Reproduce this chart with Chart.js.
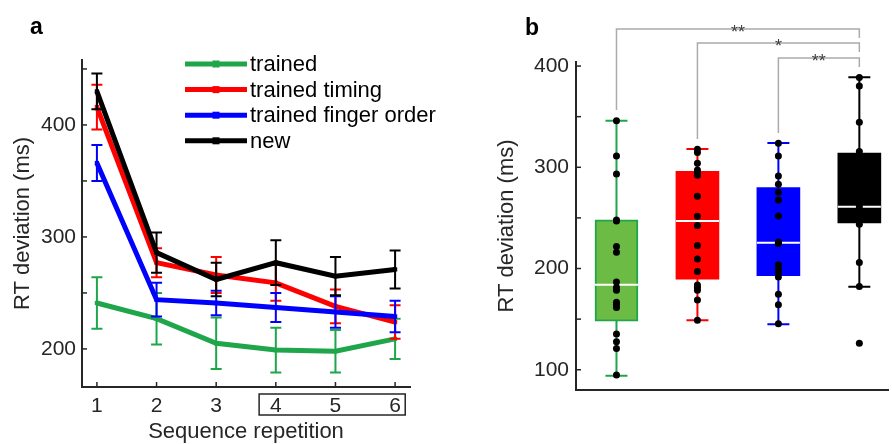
<!DOCTYPE html>
<html>
<head>
<meta charset="utf-8">
<script src="https://cdn.jsdelivr.net/npm/chart.js@4.4.0/dist/chart.umd.min.js"></script>
<style>
  html, body { margin: 0; padding: 0; background: #fff; }
  #wrap { position: relative; width: 892px; height: 444px; overflow: hidden; }
  #chartA { position: absolute; left: 0; top: 0; }
  #chartB { position: absolute; left: 460px; top: 0; }
</style>
</head>
<body>
<div id="wrap">
  <canvas id="chartA" width="450" height="444"></canvas>
  <canvas id="chartB" width="432" height="444"></canvas>
</div>
<script>
"use strict";

// panel a: RT deviation per sequence repetition (mean +- error)
var repetitions = [1, 2, 3, 4, 5, 6];
var trainedMean = [241, 227, 205, 199, 198, 209];
var trainedErr = [23, 23, 23, 20, 19, 18];
var timingMean = [416, 277, 266, 259, 238, 224];
var timingErr = [20, 13, 16, 16, 15, 15];
var fingerMean = [366, 244, 241, 237, 233, 229];
var fingerErr = [16, 15, 11, 13, 14, 14];
var newMean = [430, 286, 262, 277, 265, 271];
var newErr = [16, 18, 15, 20, 17, 17];
var yTicksA = [200, 250, 300, 350, 400, 450];

// panel b: box plots of individual subjects
var groups = ["trained", "trained timing", "trained finger order", "new"];
var boxMin = [94, 149, 145, 182];
var boxQ1 = [148, 189.5, 193, 245];
var boxMedian = [184, 247, 225.5, 261];
var boxQ3 = [248, 296, 280, 314];
var boxMax = [346, 318, 324, 389];
var ptsTrained = [346, 311.2, 293.4, 248, 247, 221.7, 216.1, 186.8, 181.3, 178.6, 166.8, 164.4, 161.5, 135.2, 127.6, 121, 94.7];
var ptsTiming = [317.8, 314.5, 304, 297.4, 294.8, 292.2, 271.4, 251.7, 242.4, 222.7, 209.5, 197, 183.6, 181.3, 178.6, 168.8, 149];
var ptsFinger = [323.7, 311.2, 291.4, 283.2, 275.4, 267.8, 252, 226.3, 225.5, 224.6, 203.6, 200, 196.1, 191.5, 174.7, 164.1, 145.4];
var ptsNew = [388.8, 380.3, 344.4, 315.5, 306, 295, 282, 270, 261.2, 258, 254, 250, 247, 243.8, 205.9, 182.2, 126.3];
var yTicksB = [100, 150, 200, 250, 300, 350, 400];
var sigFrom = [1, 2, 3];
var sigTo = [4, 4, 4];
var sigLabels = ["**", "*", "**"];

var green = "#1fa64b";
var greenFill = "#6cbb45";
var red = "#ff0000";
var blue = "#0000ff";
var black = "#000000";
var axisColor = "#262626";
var fontFamily = "'Liberation Sans', Arial, Helvetica, sans-serif";

Chart.defaults.font.family = fontFamily;
Chart.defaults.color = axisColor;

function points(xs, ys) {
  return xs.map(function (x, i) { return { x: x, y: ys[i] }; });
}

// short tick marks pointing into the plot, like the original figure
var innerTicks = {
  id: "innerTicks",
  afterDraw: function (chart, args, opts) {
    var ctx = chart.ctx;
    var area = chart.chartArea;
    ctx.save();
    ctx.strokeStyle = axisColor;
    ctx.lineWidth = 1.5;
    (opts.axes || []).forEach(function (id) {
      var scale = chart.scales[id];
      scale.ticks.forEach(function (t) {
        var p = scale.getPixelForValue(t.value);
        ctx.beginPath();
        if (scale.isHorizontal()) {
          ctx.moveTo(p, area.bottom);
          ctx.lineTo(p, area.bottom - 5);
        } else {
          ctx.moveTo(area.left, p);
          ctx.lineTo(area.left + 5, p);
        }
        ctx.stroke();
      });
    });
    ctx.restore();
  }
};

var panelLetter = {
  id: "panelLetter",
  afterDraw: function (chart, args, opts) {
    var ctx = chart.ctx;
    ctx.save();
    ctx.font = "bold 23px " + fontFamily;
    ctx.fillStyle = "#000";
    ctx.textBaseline = "alphabetic";
    ctx.fillText(opts.text, opts.x, opts.y);
    ctx.restore();
  }
};

var errorBars = {
  id: "errorBars",
  afterDatasetDraw: function (chart, args) {
    var ds = chart.data.datasets[args.index];
    if (!ds.errors) return;
    var ctx = chart.ctx;
    var xs = chart.scales.x;
    var ys = chart.scales.y;
    ctx.save();
    ctx.strokeStyle = ds.borderColor;
    ctx.lineWidth = 2;
    ds.data.forEach(function (p, i) {
      var px = xs.getPixelForValue(p.x);
      var top = ys.getPixelForValue(p.y + ds.errors[i]);
      var bot = ys.getPixelForValue(p.y - ds.errors[i]);
      ctx.beginPath();
      ctx.moveTo(px, top);
      ctx.lineTo(px, bot);
      ctx.moveTo(px - 5.5, top);
      ctx.lineTo(px + 5.5, top);
      ctx.moveTo(px - 5.5, bot);
      ctx.lineTo(px + 5.5, bot);
      ctx.stroke();
    });
    ctx.restore();
  }
};

var lineLegend = {
  id: "lineLegend",
  afterDraw: function (chart) {
    var ctx = chart.ctx;
    ctx.save();
    ctx.font = "22px " + fontFamily;
    ctx.textBaseline = "middle";
    chart.data.datasets.forEach(function (ds, i) {
      var y = 64 + i * 25.6;
      ctx.strokeStyle = ds.borderColor;
      ctx.lineWidth = 5;
      ctx.beginPath();
      ctx.moveTo(185, y);
      ctx.lineTo(247, y);
      ctx.stroke();
      ctx.fillStyle = ds.borderColor;
      ctx.fillRect(212.5, y - 3.5, 7, 7);
      ctx.fillStyle = "#000";
      ctx.fillText(ds.label, 250, y + 1);
    });
    ctx.restore();
  }
};

// frame around the tick labels 4-6
var repFrame = {
  id: "repFrame",
  afterDraw: function (chart) {
    var ctx = chart.ctx;
    var xs = chart.scales.x;
    var b = chart.chartArea.bottom;
    var x0 = xs.getPixelForValue(3.72);
    var x1 = xs.getPixelForValue(6.17);
    ctx.save();
    ctx.strokeStyle = axisColor;
    ctx.lineWidth = 1.5;
    ctx.strokeRect(x0, b + 7, x1 - x0, 21);
    ctx.restore();
  }
};

var boxParts = {
  id: "boxParts",
  beforeDatasetsDraw: function (chart) {
    var ctx = chart.ctx;
    var xs = chart.scales.x;
    var ys = chart.scales.y;
    var colors = [green, red, blue, black];
    ctx.save();
    ctx.lineWidth = 2;
    groups.forEach(function (g, i) {
      var px = xs.getPixelForValue(i + 1);
      var lo = ys.getPixelForValue(boxMin[i]);
      var hi = ys.getPixelForValue(boxMax[i]);
      ctx.strokeStyle = colors[i];
      ctx.beginPath();
      ctx.moveTo(px, lo);
      ctx.lineTo(px, hi);
      ctx.moveTo(px - 11, lo);
      ctx.lineTo(px + 11, lo);
      ctx.moveTo(px - 11, hi);
      ctx.lineTo(px + 11, hi);
      ctx.stroke();
    });
    ctx.restore();
  },
  afterDatasetDraw: function (chart, args) {
    if (args.index !== 0) return;
    var ctx = chart.ctx;
    var ys = chart.scales.y;
    ctx.save();
    ctx.strokeStyle = "#ffffff";
    ctx.lineWidth = 2;
    args.meta.data.forEach(function (bar, i) {
      var py = ys.getPixelForValue(boxMedian[i]);
      ctx.beginPath();
      ctx.moveTo(bar.x - bar.width / 2, py);
      ctx.lineTo(bar.x + bar.width / 2, py);
      ctx.stroke();
    });
    ctx.restore();
  }
};

var sigBrackets = {
  id: "sigBrackets",
  afterDraw: function (chart) {
    var ctx = chart.ctx;
    var xs = chart.scales.x;
    var ys = chart.scales.y;
    var levels = [436.5, 422.7, 407.9];
    var starts = [356.6, 328, 333.9];
    ctx.save();
    ctx.strokeStyle = "#ababab";
    ctx.lineWidth = 1.5;
    ctx.fillStyle = "#404040";
    ctx.font = "18px " + fontFamily;
    ctx.textAlign = "center";
    ctx.textBaseline = "alphabetic";
    sigLabels.forEach(function (lab, i) {
      var x0 = xs.getPixelForValue(sigFrom[i]);
      var x1 = xs.getPixelForValue(sigTo[i]);
      var yTop = ys.getPixelForValue(levels[i]);
      var yStart = ys.getPixelForValue(starts[i]);
      ctx.beginPath();
      ctx.moveTo(x0, yStart);
      ctx.lineTo(x0, yTop);
      ctx.lineTo(x1, yTop);
      ctx.lineTo(x1, yTop + 9);
      ctx.stroke();
      ctx.fillText(lab, (x0 + x1) / 2, yTop + 8.5);
    });
    ctx.restore();
  }
};

var tickFont = { size: 21 };
var titleFont = { size: 22 };

new Chart(document.getElementById("chartA"), {
  type: "line",
  data: {
    datasets: [
      { label: "trained", data: points(repetitions, trainedMean), errors: trainedErr,
        borderColor: green, backgroundColor: green, order: 4 },
      { label: "trained timing", data: points(repetitions, timingMean), errors: timingErr,
        borderColor: red, backgroundColor: red, order: 3 },
      { label: "trained finger order", data: points(repetitions, fingerMean), errors: fingerErr,
        borderColor: blue, backgroundColor: blue, order: 2 },
      { label: "new", data: points(repetitions, newMean), errors: newErr,
        borderColor: black, backgroundColor: black, order: 1 }
    ]
  },
  options: {
    responsive: false,
    animation: false,
    layout: { padding: { left: 0, right: 40, top: 60, bottom: 0 } },
    elements: {
      line: { borderWidth: 5, tension: 0 },
      point: { pointStyle: "rect", radius: 3, borderWidth: 0 }
    },
    scales: {
      x: {
        type: "linear",
        min: 0.75,
        max: 6.25,
        afterBuildTicks: function (s) { s.ticks = repetitions.map(function (v) { return { value: v }; }); },
        afterFit: function (s) { s.height = 57; },
        ticks: { font: tickFont, padding: 7, autoSkip: false, maxRotation: 0 },
        grid: { display: false, drawTicks: false },
        border: { color: axisColor, width: 2 },
        title: { display: true, text: "Sequence repetition", font: titleFont, padding: { top: 0, bottom: -1.5 } }
      },
      y: {
        min: 166,
        max: 458,
        afterBuildTicks: function (s) { s.ticks = yTicksA.map(function (v) { return { value: v }; }); },
        afterFit: function (s) { s.width = 82; },
        ticks: {
          font: tickFont,
          padding: 6,
          callback: function (v) { return v % 100 === 0 ? v : ""; }
        },
        grid: { display: false, drawTicks: false },
        border: { color: axisColor, width: 2 },
        title: { display: true, text: "RT deviation (ms)", font: titleFont, padding: { top: 10, bottom: 0 } }
      }
    },
    plugins: {
      legend: { display: false },
      tooltip: { enabled: false },
      innerTicks: { axes: ["x", "y"] },
      panelLetter: { text: "a", x: 30, y: 34 }
    }
  },
  plugins: [errorBars, innerTicks, lineLegend, repFrame, panelLetter]
});

var scatterPts = [];
[ptsTrained, ptsTiming, ptsFinger, ptsNew].forEach(function (arr, i) {
  arr.forEach(function (v) { scatterPts.push({ x: i + 1, y: v }); });
});

new Chart(document.getElementById("chartB"), {
  type: "bar",
  data: {
    datasets: [
      {
        type: "bar",
        label: "box",
        data: groups.map(function (g, i) { return { x: i + 1, y: [boxQ1[i], boxQ3[i]] }; }),
        backgroundColor: [greenFill, red, blue, black],
        borderColor: [green, red, blue, black],
        borderWidth: [2, 0, 0, 0],
        borderSkipped: false,
        barThickness: 43,
        order: 2
      },
      {
        type: "scatter",
        label: "subjects",
        data: scatterPts,
        pointRadius: 3.5,
        pointBorderWidth: 0,
        pointBackgroundColor: "#000",
        order: 1
      }
    ]
  },
  options: {
    responsive: false,
    animation: false,
    layout: { padding: { left: 0, right: 0, top: 62, bottom: 0 } },
    scales: {
      x: {
        type: "linear",
        offset: false,
        min: 0.5,
        max: 4.354,
        afterFit: function (s) { s.height = 54; },
        ticks: { display: false },
        grid: { display: false, drawTicks: false },
        border: { color: axisColor, width: 2 }
      },
      y: {
        min: 80,
        max: 404,
        afterBuildTicks: function (s) { s.ticks = yTicksB.map(function (v) { return { value: v }; }); },
        afterFit: function (s) { s.width = 116; },
        ticks: {
          font: tickFont,
          padding: 7,
          callback: function (v) { return v % 100 === 0 ? v : ""; }
        },
        grid: { display: false, drawTicks: false },
        border: { color: axisColor, width: 2 },
        title: { display: true, text: "RT deviation (ms)", font: titleFont, padding: { top: 34, bottom: 0 } }
      }
    },
    plugins: {
      legend: { display: false },
      tooltip: { enabled: false },
      innerTicks: { axes: ["y"] },
      panelLetter: { text: "b", x: 65, y: 35 }
    }
  },
  plugins: [boxParts, innerTicks, sigBrackets, panelLetter]
});
</script>
</body>
</html>
